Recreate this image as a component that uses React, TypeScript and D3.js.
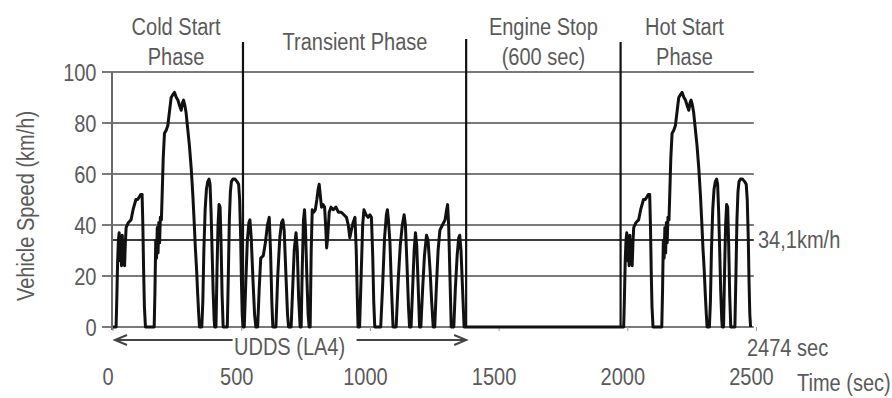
import React from "react";
import * as d3 from "d3";

// FTP-75 drive schedule: time (s) vs vehicle speed (km/h)
type Pt = [number, number];

const coldStartPhase: Pt[] = [
  [0, 0], [12, 0], [15, 12], [18, 26], [21, 34], [24, 37], [27, 26], [30, 35], [33, 24], [36, 36],
  [39, 27], [42, 34], [45, 24], [48, 33], [51, 39], [60, 41], [70, 42], [78, 46], [89, 50], [96, 50],
  [102, 51], [108, 52], [113, 52], [116, 40], [119, 22], [122, 8], [126, 0], [160, 0], [163, 14],
  [166, 34], [169, 27], [172, 39], [175, 29], [178, 41], [181, 33], [184, 43], [188, 42], [191, 52],
  [195, 66], [200, 76], [206, 77], [213, 79], [220, 85], [226, 90], [232, 91], [239, 92], [246, 90],
  [252, 89], [258, 87], [265, 85], [270, 88], [274, 89], [279, 87], [284, 84], [290, 78], [297, 71],
  [304, 62], [310, 52], [315, 42], [320, 31], [325, 22], [329, 13], [333, 5], [336, 0], [345, 0],
  [349, 10], [353, 30], [358, 46], [363, 54], [368, 57], [373, 58], [377, 56], [381, 45], [385, 30],
  [389, 14], [393, 3], [395, 0], [400, 0], [404, 22], [408, 40], [412, 48], [416, 47], [420, 32],
  [424, 12], [428, 0], [444, 0], [448, 20], [452, 42], [456, 53], [460, 57], [466, 58], [474, 58],
  [482, 57], [488, 56], [492, 50], [496, 35], [499, 18], [502, 5], [505, 0],
];

const transientPhase: Pt[] = [
  [505, 0], [510, 0], [516, 18], [522, 34], [528, 41], [532, 42], [537, 35], [544, 18], [550, 5], [555, 0],
  [562, 0], [568, 15], [574, 27], [584, 28], [592, 33], [600, 40], [607, 43], [612, 30], [617, 10], [621, 0],
  [633, 0], [640, 20], [648, 35], [655, 41], [660, 42], [665, 38], [672, 20], [678, 5], [682, 0],
  [692, 0], [698, 15], [704, 30], [711, 37], [716, 30], [721, 12], [727, 0],
  [731, 0], [735, 22], [740, 42], [744, 46], [748, 38], [753, 20], [758, 5], [762, 0],
  [766, 0], [770, 30], [774, 46], [780, 45], [786, 46], [792, 50], [797, 54], [801, 56], [805, 52],
  [810, 47], [816, 48], [822, 47], [826, 40], [830, 31], [834, 35], [840, 45], [847, 47], [856, 46],
  [866, 47], [876, 45], [887, 45], [897, 44], [907, 43], [914, 40], [920, 35], [926, 38], [933, 41],
  [940, 43], [945, 30], [949, 12], [952, 0],
  [958, 0], [964, 20], [970, 40], [975, 46], [983, 44], [991, 43], [998, 44], [1004, 43], [1009, 28],
  [1013, 10], [1017, 0],
  [1040, 0], [1047, 15], [1055, 35], [1062, 44], [1066, 46], [1070, 42], [1076, 33], [1082, 15], [1088, 0],
  [1100, 0], [1108, 18], [1116, 32], [1124, 40], [1131, 44], [1136, 40], [1142, 25], [1148, 8], [1152, 0],
  [1158, 0], [1164, 15], [1170, 30], [1175, 37], [1180, 32], [1186, 15], [1191, 0],
  [1196, 0], [1203, 15], [1210, 28], [1218, 36], [1224, 34], [1232, 22], [1238, 10], [1244, 0],
  [1250, 0], [1256, 15], [1263, 30], [1270, 38], [1280, 40], [1290, 42], [1296, 46], [1300, 48],
  [1304, 40], [1309, 20], [1314, 0],
  [1324, 0], [1330, 15], [1337, 28], [1343, 35], [1347, 36], [1352, 30], [1358, 15], [1364, 0], [1372, 0],
];

const engineStopPhase: Pt[] = [[1372, 0], [1972, 0]];

// The hot start phase repeats the cold start schedule after the 600 s soak
const HOT_START_AT = 1972;
const hotStartPhase: Pt[] = coldStartPhase.map(([t, v]) => [t + HOT_START_AT, v] as Pt);

const phaseBoundaries = [505, 1372, 1972];
const CYCLE_END = 2474;
const AVERAGE_SPEED = 34.1;

const xTicks = [0, 500, 1000, 1500, 2000, 2500];
const yTicks = [0, 20, 40, 60, 80, 100];

const phaseTitles: { lines: string[]; at: number; baseline: number }[] = [
  { lines: ["Cold Start", "Phase"], at: 245, baseline: 35 },
  { lines: ["Transient Phase"], at: 940, baseline: 50 },
  { lines: ["Engine Stop", "(600 sec)"], at: 1672, baseline: 35 },
  { lines: ["Hot Start", "Phase"], at: 2220, baseline: 35 },
];

const W = 892;
const H = 398;
const FONT = "'Liberation Sans', Arial, sans-serif";
const TEXT = "#5a5a5a";

function Label({
  x, y, anchor = "middle", size = 23, sx = 0.87, rotate, fill = TEXT, children,
}: {
  x: number; y: number; anchor?: string; size?: number; sx?: number; rotate?: number; fill?: string;
  children: React.ReactNode;
}) {
  const tr = `translate(${x},${y})${rotate ? ` rotate(${rotate})` : ""} scale(${sx},1)`;
  return (
    <text transform={tr} textAnchor={anchor as any} fontSize={size} fontFamily={FONT} fill={fill}>
      {children}
    </text>
  );
}

export default function App() {
  const x = d3.scaleLinear().domain([0, 2500]).range([113, 756.5]);
  const y = d3.scaleLinear().domain([0, 100]).range([327, 72]);

  const line = d3
    .line<Pt>()
    .x((d) => x(d[0]))
    .y((d) => y(d[1]));

  const trace = [...coldStartPhase, ...transientPhase.slice(1), ...engineStopPhase.slice(1), ...hotStartPhase];

  const gridLeft = x(0) - 11;
  const gridRight = x(CYCLE_END) + 4;
  const arrowY = 340;
  const uddsMid = (x(0) + x(phaseBoundaries[1])) / 2;

  return (
    <svg width={W} height={H} style={{ position: "absolute", left: 0, top: 0, background: "#fff" }}>
      {/* horizontal grid */}
      {yTicks.map((v) => (
        <line key={v} x1={gridLeft} x2={gridRight} y1={y(v)} y2={y(v)} stroke="#7a7a7a" strokeWidth={2} />
      ))}
      {/* average speed reference */}
      <line x1={x(0)} x2={gridRight} y1={y(AVERAGE_SPEED)} y2={y(AVERAGE_SPEED)} stroke="#3a3a3a" strokeWidth={2} />

      {/* y axis */}
      <line x1={x(0) - 1} x2={x(0) - 1} y1={y(100)} y2={y(0) + 3} stroke="#6a6a6a" strokeWidth={2} />
      {/* x ticks */}
      {xTicks.map((v) => (
        <line key={v} x1={x(v)} x2={x(v)} y1={y(0)} y2={y(0) + 4} stroke="#999" strokeWidth={1} />
      ))}

      {/* phase dividers */}
      {phaseBoundaries.map((t, i) => (
        <line key={t} x1={x(t)} x2={x(t)} y1={i === 1 ? 39 : 42} y2={y(0)} stroke="#111" strokeWidth={2.2} />
      ))}

      {/* speed trace */}
      <path d={line(trace) ?? ""} fill="none" stroke="#111" strokeWidth={3} strokeLinejoin="round" />

      {/* tick labels */}
      {yTicks.map((v) => (
        <Label key={v} x={96.5} y={y(v) + 8.5} anchor="end">{v}</Label>
      ))}
      {xTicks.map((v) => (
        <Label key={v} x={x(v) - 5} y={385}>{v}</Label>
      ))}

      {/* axis titles */}
      <Label x={34} y={206} rotate={-90}>Vehicle Speed (km/h)</Label>
      <Label x={797} y={391} anchor="start">Time (sec)</Label>

      {/* phase titles */}
      {phaseTitles.map((p) =>
        p.lines.map((s, i) => (
          <Label key={s + p.at} x={x(p.at)} y={p.baseline + i * 30}>{s}</Label>
        ))
      )}

      {/* annotations */}
      <Label x={758} y={y(AVERAGE_SPEED) + 8} anchor="start">34,1km/h</Label>
      <Label x={747} y={356} anchor="start">{`${CYCLE_END} sec`}</Label>

      {/* UDDS span arrows */}
      <g stroke="#444" strokeWidth={2} fill="none">
        <line x1={x(0) + 2} x2={uddsMid - 57} y1={arrowY} y2={arrowY} />
        <polyline points={`${x(0) + 14},${arrowY - 5} ${x(0) + 2},${arrowY} ${x(0) + 14},${arrowY + 5}`} />
        <line x1={uddsMid + 67} x2={x(phaseBoundaries[1])} y1={arrowY} y2={arrowY} />
        <polyline
          points={`${x(phaseBoundaries[1]) - 12},${arrowY - 5} ${x(phaseBoundaries[1])},${arrowY} ${x(phaseBoundaries[1]) - 12},${arrowY + 5}`}
        />
      </g>
      <Label x={uddsMid} y={355}>UDDS (LA4)</Label>
    </svg>
  );
}
